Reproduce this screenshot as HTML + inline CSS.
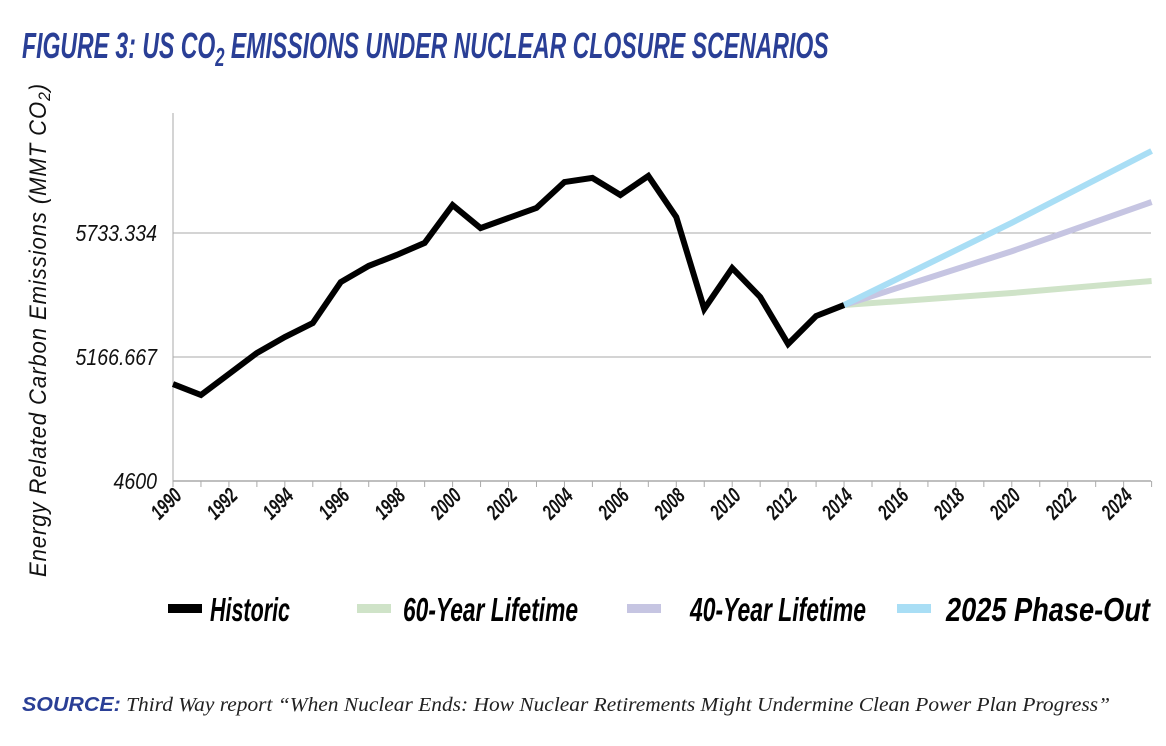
<!DOCTYPE html>
<html><head><meta charset="utf-8">
<style>
body{margin:0;width:1166px;height:746px;background:#fff;overflow:hidden;font-family:"Liberation Sans",sans-serif;}
svg{position:absolute;left:0;top:0}
</style></head>
<body>
<svg width="1166" height="746">
<g id="root"></g>
</svg>
<script>
const years=[1990,1991,1992,1993,1994,1995,1996,1997,1998,1999,2000,2001,2002,2003,2004,2005,2006,2007,2008,2009,2010,2011,2012,2013,2014];
const historic=[5043,4993,5089,5185,5258,5322,5509,5583,5633,5688,5861,5756,5802,5848,5966,5985,5907,5994,5806,5386,5573,5441,5226,5354,5404];
const scenYears=[2014,2020,2025];
const life60=[5404,5459,5514];
const life40=[5404,5650,5875];
const phase2025=[5404,5780,6108];
const yTicks=[4600,5166.667,5733.334];
const yTickLabels=["4600","5166.667","5733.334"];
const xLabelYears=[1990,1992,1994,1996,1998,2000,2002,2004,2006,2008,2010,2012,2014,2016,2018,2020,2022,2024];

const NS="http://www.w3.org/2000/svg";
const root=document.getElementById('root');
const X=y=>173+(y-1990)*27.96;
const Y=v=>481-(v-4600)/566.667*124;
function mk(tag,attrs,parent){const e=document.createElementNS(NS,tag);for(const k in attrs)e.setAttribute(k,attrs[k]);(parent||root).appendChild(e);return e;}
const F='"Liberation Sans",sans-serif';

// title
let t=mk('text',{x:0,y:0,'font-family':F,'font-size':36,'font-style':'italic','font-weight':'bold',fill:'#2a3f96',transform:'translate(22,58) scale(0.64,1)'});

t.innerHTML='FIGURE 3: US CO<tspan font-size="26" dy="8">2</tspan><tspan dy="-8"> EMISSIONS UNDER NUCLEAR CLOSURE SCENARIOS</tspan>';

// gridlines
yTicks.forEach((v,i)=>{
  if(i>0){const g=mk('line',{x1:173,x2:1151,y1:Y(v),y2:Y(v),stroke:'#aaa','stroke-width':1});
  }
  const l=mk('text',{x:0,y:0,'text-anchor':'end','font-family':F,'font-size':23,'font-style':'italic',fill:'#111',transform:`translate(157,${Y(v)+8}) scale(0.85,1)`});
  
  l.textContent=yTickLabels[i];
});
let ax=mk('line',{x1:173,x2:173,y1:113,y2:481,stroke:'#aaa','stroke-width':1});

let xa=mk('line',{x1:173,x2:1151,y1:481,y2:481,stroke:'#aaa','stroke-width':1.5});

for(let yr=1990;yr<=2025;yr++){const tk=mk('line',{x1:X(yr),x2:X(yr),y1:481,y2:487,stroke:'#aaa'});
}
xLabelYears.forEach(yr=>{
  const l=mk('text',{x:0,y:0,'text-anchor':'end','font-family':F,'font-size':25,'font-style':'italic','font-weight':'bold',fill:'#111',transform:`translate(${X(yr)+10},${497}) rotate(-45) scale(0.6,0.85)`});
  
  l.textContent=yr;
});
// y title
let yt=mk('text',{x:0,y:0,'text-anchor':'middle','font-family':F,'font-size':24,'font-style':'italic',fill:'#111',transform:'translate(46,330) rotate(-90) scale(0.92,1)','letter-spacing':'1'});

yt.innerHTML='Energy Related Carbon Emissions (MMT CO<tspan font-size="17" dy="4">2</tspan><tspan dy="-4">)</tspan>';

function line(xs,vs,color,w,name){
  const p=mk('polyline',{points:xs.map((x,i)=>X(x)+','+Y(vs[i])).join(' '),fill:'none',stroke:color,'stroke-width':w,'stroke-linejoin':'miter','stroke-miterlimit':3});
  
}
line(scenYears,life60,'#cfe3c8',6,'series-60-year-lifetime');
line(scenYears,life40,'#c6c5e2',6,'series-40-year-lifetime');
line(scenYears,phase2025,'#a9def5',6,'series-2025-phase-out');
line(years,historic,'#000',6,'series-historic');

// legend
const leg=[['Historic','#000',168,210,80],['60-Year Lifetime','#cfe3c8',357,403,175],['40-Year Lifetime','#c6c5e2',627,690,176],['2025 Phase-Out','#a9def5',897,946,204]];
leg.forEach(([n,c,x,tx0,tw])=>{
  const g=mk('g',{});
  mk('rect',{x:x,y:604,width:34,height:9,fill:c},g);
  const tx=mk('text',{x:tx0,y:621,'font-family':F,'font-size':33,'font-style':'italic','font-weight':'bold',fill:'#000',textLength:tw,lengthAdjust:'spacingAndGlyphs'},g);
  tx.textContent=n;
});
// source
let s=mk('text',{x:22,y:711,'font-family':'"Liberation Serif",serif','font-size':20,'font-style':'italic',fill:'#222',textLength:1088,lengthAdjust:'spacingAndGlyphs'});

s.innerHTML='<tspan font-family=\'"Liberation Sans",sans-serif\' font-weight="bold" fill="#2a3f96">SOURCE:</tspan> Third Way report \u201cWhen Nuclear Ends: How Nuclear Retirements Might Undermine Clean Power Plan Progress\u201d';
</script>
</body></html>
